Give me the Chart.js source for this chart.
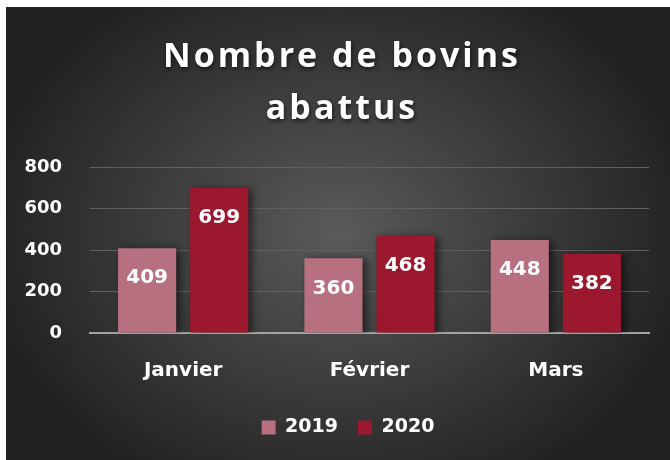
<!DOCTYPE html>
<html>
<head>
<meta charset="utf-8">
<script src="https://cdn.jsdelivr.net/npm/chart.js@4/dist/chart.umd.min.js"></script>
<style>
html,body{margin:0;padding:0;background:#ffffff;}
#wrap{position:absolute;left:6px;top:7px;width:664px;height:453px;}
</style>
</head>
<body>
<div id="wrap"><canvas id="c" width="664" height="453"></canvas></div>
<script>
const titleLines = ["Nombre de bovins", "abattus"];
const categories = ["Janvier", "Février", "Mars"];
const series2019 = [409, 360, 448];
const series2020 = [699, 468, 382];
const seriesNames = ["2019", "2020"];
const yTicks = [0, 200, 400, 600, 800];

const COL2019 = "#b7707f";
const COL2020 = "#9b182f";
const NUMFONT = "DejaVu Sans";

function wrapDraw(box, fn) {
  if (!box || box.__wrapped) return;
  box.__wrapped = true;
  const orig = box.draw.bind(box);
  box.draw = function (a) {
    const c = this.ctx;
    c.save();
    fn(c);
    orig(a);
    c.restore();
  };
}

const bgPlugin = {
  id: "bg",
  beforeDraw(chart) {
    const ctx = chart.ctx, w = chart.width, h = chart.height;
    ctx.save();
    ctx.translate(w / 2, h / 2);
    ctx.scale(1.25, 1);
    const r = h / 2 * 1.25;
    const g = ctx.createRadialGradient(0, 0, 0, 0, 0, r);
    g.addColorStop(0, "#5a5a5a");
    g.addColorStop(1, "#222222");
    ctx.fillStyle = g;
    ctx.fillRect(-w, -h, 2 * w, 2 * h);
    ctx.restore();
    wrapDraw(chart.titleBlock, c => {
      c.translate(4, 0);
      c.letterSpacing = "3px";
      c.shadowColor = "rgba(0,0,0,0.6)";
      c.shadowBlur = 4;
      c.shadowOffsetX = 1;
      c.shadowOffsetY = 2;
    });
    wrapDraw(chart.legend, c => { c.translate(10, 0); });
  },
  beforeDatasetsDraw(chart) {
    const ctx = chart.ctx;
    ctx.save();
    ctx.shadowColor = "rgba(0,0,0,0.55)";
    ctx.shadowBlur = 8;
    ctx.shadowOffsetX = 4;
    ctx.shadowOffsetY = 1;
  },
  afterDatasetsDraw(chart) {
    const ctx = chart.ctx;
    ctx.restore();
    ctx.save();
    ctx.fillStyle = "#ffffff";
    ctx.font = "bold 20px '" + NUMFONT + "'";
    ctx.textAlign = "center";
    ctx.textBaseline = "middle";
    chart.data.datasets.forEach((ds, i) => {
      const meta = chart.getDatasetMeta(i);
      meta.data.forEach((el, j) => {
        ctx.fillText(String(ds.data[j]), el.x, el.y + 30);
      });
    });
    ctx.restore();
  }
};

new Chart(document.getElementById("c"), {
  type: "bar",
  data: {
    labels: categories,
    datasets: [
      { label: seriesNames[0], data: series2019, backgroundColor: COL2019 },
      { label: seriesNames[1], data: series2020, backgroundColor: COL2020 }
    ]
  },
  options: {
    responsive: false,
    animation: false,
    devicePixelRatio: 1,
    layout: { padding: { left: 0, right: 0, top: 0, bottom: 13 } },
    datasets: { bar: { categoryPercentage: 0.774, barPercentage: 0.806 } },
    scales: {
      x: {
        grid: { display: false, drawTicks: false },
        border: { display: true, color: "#a3a3a3", width: 2 },
        ticks: { color: "#ffffff", font: { family: NUMFONT, size: 20, weight: "bold" }, padding: 26 },
        afterFit(s) { s.height = 65; }
      },
      y: {
        min: 0, max: 800,
        afterBuildTicks(s) { s.ticks = yTicks.map(v => ({ value: v })); },
        grid: { color: "#606060", lineWidth: 1, drawTicks: false },
        border: { display: false },
        ticks: { color: "#ffffff", font: { family: NUMFONT, size: 18, weight: "bold" }, padding: 28 },
        afterFit(s) { s.width = 84; }
      },
      yr: {
        type: "linear",
        position: "right",
        min: 0, max: 1,
        grid: { display: false, drawTicks: false },
        border: { display: false },
        ticks: { display: false },
        afterFit(s) { s.width = 21; }
      }
    },
    plugins: {
      title: {
        display: true,
        text: titleLines,
        color: "#ffffff",
        font: { family: "Open Sans", size: 34, weight: "bold", lineHeight: 1.53 },
        padding: { top: 24, bottom: 32 }
      },
      legend: {
        position: "bottom",
        labels: {
          color: "#ffffff",
          font: { family: NUMFONT, size: 19, weight: "bold" },
          boxWidth: 14, boxHeight: 14, padding: 20
        }
      },
      tooltip: { enabled: false }
    }
  },
  plugins: [bgPlugin]
});
</script>
</body>
</html>
